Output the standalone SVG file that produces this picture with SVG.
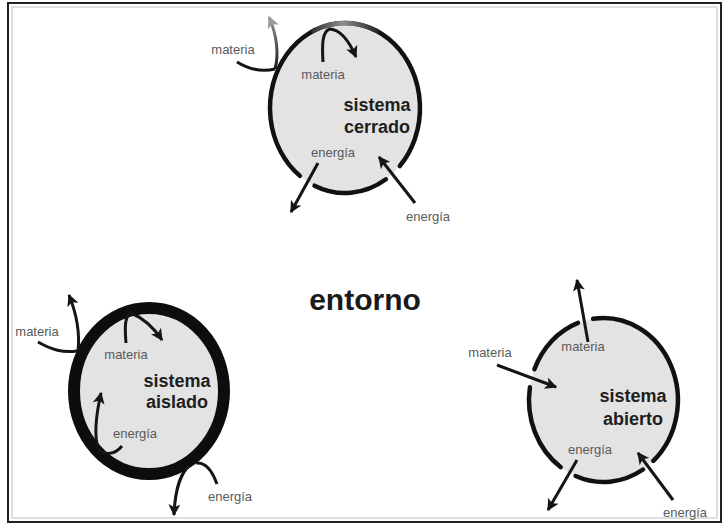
<svg xmlns="http://www.w3.org/2000/svg" width="726" height="525" viewBox="0 0 726 525">
<style>
.frame{fill:#fff;stroke:#222;stroke-width:2}
.inner{fill:none;stroke:#d4d4d4;stroke-width:1.5}
.body{fill:#e3e3e3;stroke:none}
.wall{fill:none;stroke:#111;stroke-width:4.5;stroke-linecap:round}
.thick{fill:#e3e3e3;stroke:#0d0d0d;stroke-width:12}
.arr{fill:none;stroke:#151515;stroke-width:3;stroke-linecap:butt;marker-end:url(#ah)}
.sm{font-family:"Liberation Sans",Arial,sans-serif;font-size:13px;fill:#5a5a5a;text-anchor:middle}
.bd{font-family:"Liberation Sans",Arial,sans-serif;font-size:18px;font-weight:bold;fill:#1e1e1e;text-anchor:middle}
.big{font-family:"Liberation Sans",Arial,sans-serif;font-size:30px;font-weight:bold;fill:#1a1a1a;text-anchor:middle}
</style>
<defs>
<marker id="ah" viewBox="0 0 10 10" refX="9" refY="5" markerWidth="13" markerHeight="12" markerUnits="userSpaceOnUse" orient="auto">
<path d="M0,0 L10,5 L0,10 L2.5,5 z" fill="#151515"/>
</marker>
<marker id="ahg" viewBox="0 0 10 10" refX="9" refY="5" markerWidth="13" markerHeight="12" markerUnits="userSpaceOnUse" orient="auto">
<path d="M0,0 L10,5 L0,10 L2.5,5 z" fill="#9a9a9a"/>
</marker>
<linearGradient id="fade" gradientUnits="userSpaceOnUse" x1="300" y1="0" x2="385" y2="0">
<stop offset="0" stop-color="#111"/>
<stop offset="0.5" stop-color="#8c8c8c"/>
<stop offset="1" stop-color="#111"/>
</linearGradient>
<linearGradient id="fadeUp" gradientUnits="userSpaceOnUse" x1="0" y1="70" x2="0" y2="16">
<stop offset="0" stop-color="#151515"/>
<stop offset="1" stop-color="#9a9a9a"/>
</linearGradient>
</defs>

<rect class="frame" x="8" y="3" width="713" height="519"/>
<rect class="inner" x="12" y="7" width="705" height="511"/>

<g id="entorno">
<text class="big" x="365" y="310">entorno</text>
</g>

<g id="sistema-cerrado">
<ellipse class="body" cx="345" cy="108" rx="75" ry="85"/>
<path class="wall" d="M385.9,179.3 A75,85 0 0 1 314.5,185.7"/>
<path class="wall" d="M299.9,175.9 A75,85 0 1 1 399.8,166.0"/>
<path class="wall" d="M313.3,31 A75,85 0 0 1 376.7,31" style="stroke:url(#fade)"/>
<text class="sm" x="233" y="54">materia</text>
<text class="sm" x="323" y="79">materia</text>
<text class="bd" x="377" y="111">sistema</text>
<text class="bd" x="377" y="133">cerrado</text>
<text class="sm" x="333" y="157">energía</text>
<text class="sm" x="428" y="221">energía</text>
</g>

<g id="sistema-aislado">
<ellipse class="thick" cx="149" cy="391" rx="75" ry="83"/>
<text class="sm" x="37" y="336">materia</text>
<text class="sm" x="126" y="359">materia</text>
<text class="bd" x="177" y="387">sistema</text>
<text class="bd" x="177" y="408">aislado</text>
<text class="sm" x="135" y="438">energía</text>
<text class="sm" x="230" y="501">energía</text>
</g>

<g id="sistema-abierto">
<ellipse class="body" cx="603.5" cy="400" rx="74.5" ry="82"/>
<path class="wall" d="M593.1,318.8 A74.5,82 0 0 1 653.3,460.9"/>
<path class="wall" d="M643.0,469.5 A74.5,82 0 0 1 575.6,476.0"/>
<path class="wall" d="M560.8,467.2 A74.5,82 0 0 1 529.9,387.2"/>
<path class="wall" d="M534.4,369.3 A74.5,82 0 0 1 578.0,322.9"/>
<text class="sm" x="490" y="357">materia</text>
<text class="sm" x="583" y="351">materia</text>
<text class="bd" x="633" y="402">sistema</text>
<text class="bd" x="633" y="425">abierto</text>
<text class="sm" x="590" y="454">energía</text>
<text class="sm" x="685" y="517">energía</text>
</g>

<g id="connectors">
<path d="M237,62 C250,70 262,72 275,69" fill="none" stroke="#151515" stroke-width="3"/>
<path d="M275,69 C279,55 277,35 269,17" fill="none" stroke="url(#fadeUp)" stroke-width="3" marker-end="url(#ahg)"/>
<path class="arr" d="M323,62 C322,45 322,31 330,29 C342,30 350,43 356,57"/>
<path class="arr" d="M318,163 L291,212"/>
<path class="arr" d="M415,203 L379,157"/>
<path d="M38,342 C52,350 63,353 77,351" fill="none" stroke="#151515" stroke-width="3"/>
<path class="arr" d="M78,351 C80,333 77,315 69,295"/>
<path class="arr" d="M126,343 C125,330 124,316 131,313 C143,318 154,328 162,340"/>
<path class="arr" d="M122,446 C115,455 102,456 98,448 C94,435 96,415 101,393"/>
<path d="M217,484 C212,470 205,462 196,463" fill="none" stroke="#151515" stroke-width="3"/>
<path class="arr" d="M190,465 C181,472 175,490 174,515"/>
<path class="arr" d="M588,342 L577,280"/>
<path class="arr" d="M497,365 L556,387"/>
<path class="arr" d="M577,460 L548,510"/>
<path class="arr" d="M673,500 L638,453"/>
</g>
</svg>
